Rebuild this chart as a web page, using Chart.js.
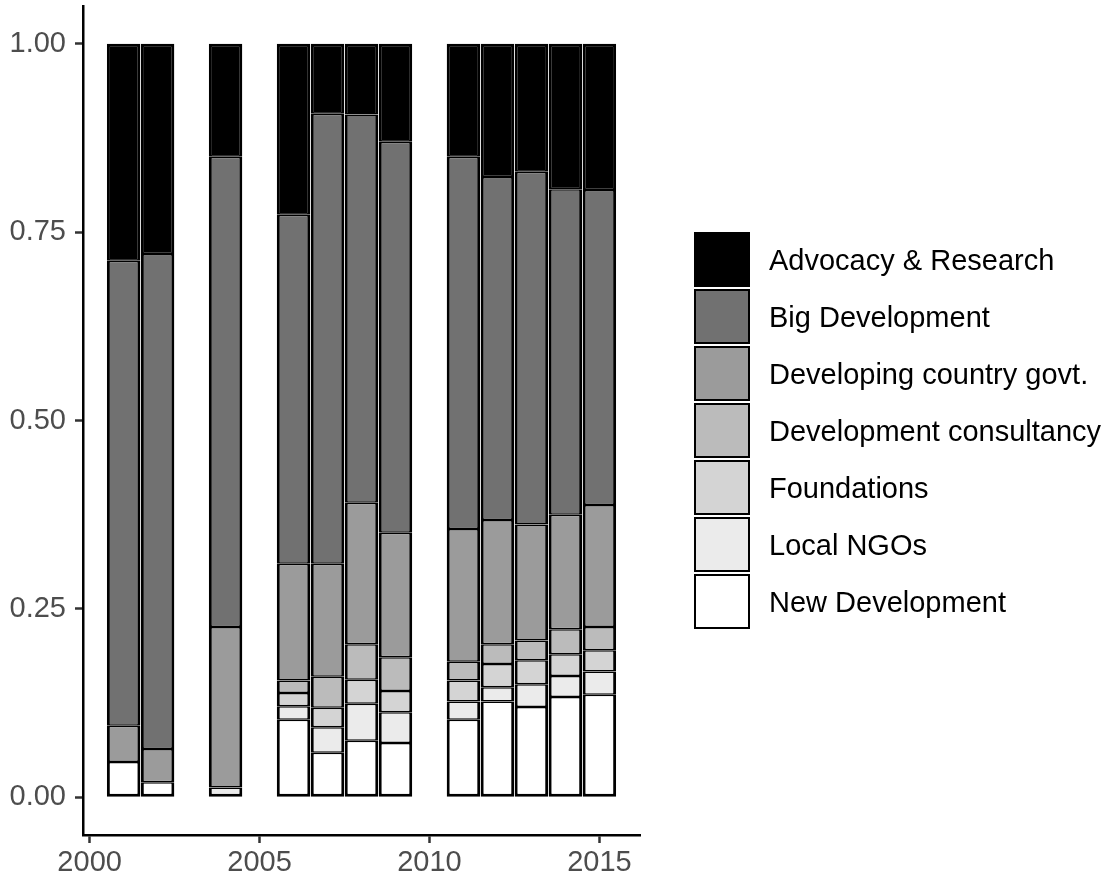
<!DOCTYPE html>
<html>
<head>
<meta charset="utf-8">
<title>Share of organisations by type, 2001–2015</title>
<script src="https://cdn.jsdelivr.net/npm/chart.js@4.4.1/dist/chart.umd.min.js"></script>
<style>
  html, body { margin: 0; padding: 0; background: #ffffff; }
  #wrap { position: relative; width: 1107px; height: 878px; }
  #legend {
    position: absolute; left: 694px; top: 232px; margin: 0; padding: 0; list-style: none;
    font-family: 'Liberation Sans', Arial, Helvetica, sans-serif; font-size: 29px; color: #000000;
  }
  #legend li { display: flex; align-items: center; height: 55px; margin-bottom: 2px; }
  #legend .key { box-sizing: border-box; width: 56px; height: 55px; border: 2.6px solid #000000; }
  #legend .txt { margin-left: 19px; white-space: nowrap; position: relative; top: 1px; }
</style>
</head>
<body>
<div id="wrap">
  <canvas id="chart" width="1107" height="878"></canvas>
  <ul id="legend"></ul>
</div>
<script>
// Years with data (2003, 2005 and 2010 have no observations)
const years = [2001, 2002, 2004, 2006, 2007, 2008, 2009, 2011, 2012, 2013, 2014, 2015];

// Proportion of each organisation type per year (each year sums to 1)
const newDevelopment        = [0.047, 0.020, 0.000, 0.103, 0.059, 0.075, 0.072, 0.103, 0.127, 0.120, 0.133, 0.136];
const localNGOs             = [0.000, 0.000, 0.013, 0.018, 0.034, 0.049, 0.041, 0.024, 0.019, 0.030, 0.028, 0.031];
const foundations           = [0.000, 0.000, 0.000, 0.0175, 0.026, 0.032, 0.028, 0.028, 0.031, 0.032, 0.029, 0.028];
const developmentConsult    = [0.000, 0.000, 0.000, 0.0165, 0.041, 0.047, 0.045, 0.025, 0.026, 0.026, 0.033, 0.031];
const developingCountryGovt = [0.048, 0.044, 0.213, 0.155, 0.150, 0.188, 0.165, 0.176, 0.165, 0.154, 0.152, 0.162];
const bigDevelopment        = [0.617, 0.657, 0.624, 0.463, 0.597, 0.515, 0.519, 0.494, 0.455, 0.468, 0.432, 0.418];
const advocacyResearch      = [0.288, 0.279, 0.150, 0.227, 0.093, 0.094, 0.130, 0.150, 0.177, 0.170, 0.193, 0.194];

// Axis tick positions
const xTickValues = [2000, 2005, 2010, 2015];
const yTickValues = [0, 0.25, 0.5, 0.75, 1];

// Series in stacking order (bottom to top) with their grey fills
const seriesLabels = ['New Development', 'Local NGOs', 'Foundations', 'Development consultancy',
                      'Developing country govt.', 'Big Development', 'Advocacy & Research'];
const seriesData   = [newDevelopment, localNGOs, foundations, developmentConsult,
                      developingCountryGovt, bigDevelopment, advocacyResearch];
const seriesFills  = ['#FFFFFF', '#EBEBEB', '#D4D4D4', '#BBBBBB', '#9B9B9B', '#717171', '#000000'];

const LINE = 3;

// Outline each segment; shared edges inside a stack get half width on each side
function segmentBorder(ctx) {
  const i = ctx.dataIndex, d = ctx.datasetIndex;
  const ds = ctx.chart.data.datasets;
  let below = false, above = false;
  for (let k = 0; k < d; k++) if (ds[k].data[i] > 0) below = true;
  for (let k = d + 1; k < ds.length; k++) if (ds[k].data[i] > 0) above = true;
  return { left: LINE, right: LINE, top: above ? LINE / 2 : LINE, bottom: below ? LINE / 2 : LINE };
}

const datasets = seriesLabels.map((label, k) => ({
  label,
  data: seriesData[k],
  backgroundColor: seriesFills[k],
  borderColor: '#000000',
  borderWidth: segmentBorder,
  borderSkipped: false,
  inflateAmount: 0,
  categoryPercentage: 1.0,
  barPercentage: 0.985
}));

// Legend drawn as HTML next to the plot, top series first
const htmlLegend = {
  id: 'htmlLegend',
  afterUpdate(chart) {
    const ul = document.getElementById('legend');
    ul.innerHTML = '';
    chart.data.datasets.slice().reverse().forEach(ds => {
      const li = document.createElement('li');
      const key = document.createElement('span');
      key.className = 'key';
      key.style.background = ds.backgroundColor;
      const txt = document.createElement('span');
      txt.className = 'txt';
      txt.textContent = ds.label;
      li.append(key, txt);
      ul.appendChild(li);
    });
  }
};

Chart.defaults.font.family = "'Liberation Sans', Arial, Helvetica, sans-serif";

const tickGrid = {
  drawOnChartArea: false, drawTicks: true, offset: false,
  tickLength: 8, tickWidth: 2.5, tickColor: '#333333'
};

new Chart(document.getElementById('chart'), {
  type: 'bar',
  data: { labels: years, datasets },
  plugins: [htmlLegend],
  options: {
    responsive: false,
    animation: false,
    devicePixelRatio: 1,
    layout: { padding: { top: 6, right: 467, bottom: 0, left: 0 } },
    plugins: { legend: { display: false }, tooltip: { enabled: false } },
    scales: {
      x: {
        type: 'linear', min: 1999.805, max: 2016.195, stacked: true, offset: false,
        afterBuildTicks: s => { s.ticks = xTickValues.map(v => ({ value: v })); },
        afterFit: s => { s.height = 43; s.paddingLeft = 0; s.paddingRight = 0; },
        grid: tickGrid,
        border: { display: true, color: '#000000', width: 2.5 },
        ticks: { color: '#4D4D4D', font: { size: 29 }, padding: 3, maxRotation: 0, autoSkip: false,
                 callback: v => String(v) }
      },
      y: {
        type: 'linear', min: -0.05, max: 1.05, stacked: true,
        afterBuildTicks: s => { s.ticks = yTickValues.map(v => ({ value: v })); },
        afterFit: s => { s.width = 83; s.paddingTop = 0; s.paddingBottom = 0; },
        grid: tickGrid,
        border: { display: true, color: '#000000', width: 2.5 },
        ticks: { color: '#4D4D4D', font: { size: 29 }, padding: 9, autoSkip: false,
                 callback: v => v.toFixed(2) }
      }
    }
  }
});
</script>
</body>
</html>
